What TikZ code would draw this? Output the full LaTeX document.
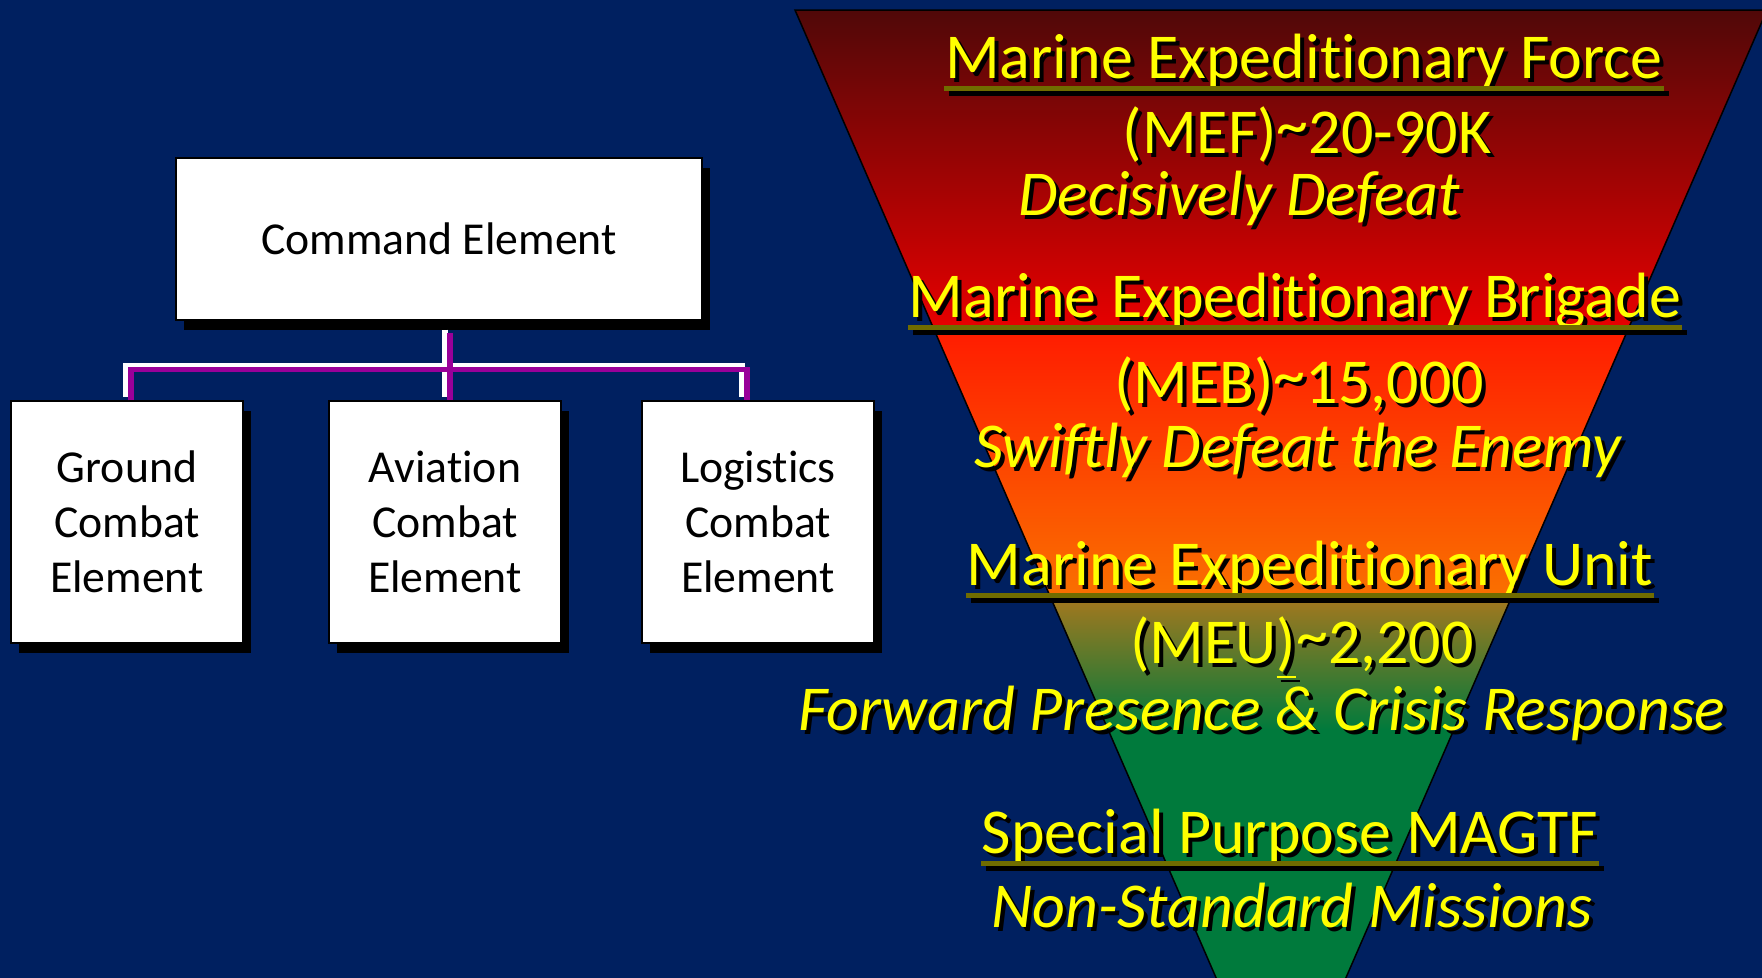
\documentclass[tikz,border=0pt]{standalone}
\usepackage{fontspec}
\setmainfont{Carlito}[Ligatures=NoCommon]
\usetikzlibrary{positioning,calc,shadows}
\definecolor{navy}{RGB}{0,32,96}
\definecolor{wirecol}{RGB}{153,0,153}
\definecolor{gold}{RGB}{255,255,0}
\definecolor{ulcol}{RGB}{112,108,0}
\definecolor{maroon}{RGB}{80,8,8}
\definecolor{redtop}{RGB}{232,0,0}
\definecolor{redlow}{RGB}{255,28,0}
\definecolor{orangelow}{RGB}{250,112,0}
\definecolor{ochre}{RGB}{165,120,30}
\definecolor{leaf}{RGB}{0,122,60}
\newcommand{\shadowed}[1]{\makebox[0pt][l]{\kern0.04cm\raisebox{-0.04cm}{\color{black}#1}}\textcolor{gold}{#1}}
\newcommand{\approxsign}{\raisebox{0.07cm}{\textasciitilde}}
\tikzstyle{element}=[draw=black,fill=white,line width=0.02cm,align=center,inner sep=0pt,font=\fontsize{13}{15.6}\selectfont,drop shadow={shadow xshift=0.08cm,shadow yshift=-0.1cm,fill=black,opacity=1}]
\tikzstyle{link}=[draw=wirecol,line width=0.055cm]
\tikzstyle{glint}=[draw=white,line width=0.055cm,transform canvas={xshift=-0.05cm,yshift=0.035cm}]
\tikzstyle{heading}=[anchor=base,inner sep=0pt,font=\fontsize{18.2}{21}\selectfont]
\tikzstyle{motto}=[anchor=base,inner sep=0pt,font=\fontsize{18.2}{21}\selectfont\itshape]
\tikzstyle{uline}=[draw=ulcol,line width=0.05cm]
\tikzstyle{ushadow}=[draw=black,line width=0.05cm,transform canvas={xshift=0.05cm,yshift=-0.05cm}]

\begin{document}
\begin{tikzpicture}[x=0.01cm,y=-0.01cm]

\useasboundingbox (0,0) rectangle (1762,978);
\fill[navy] (0,0) rectangle (1762,978);
% inverted triangle
\begin{scope}
\clip (795,10) -- (1767,10) -- (1281,1127) -- cycle;
\fill[top color=maroon,bottom color=redtop] (780,10) rectangle (1780,330);
\fill[top color=redlow,bottom color=orangelow] (780,330) rectangle (1780,596);
\fill[top color=ochre,bottom color=leaf] (780,596) rectangle (1780,730);
\fill[leaf] (780,730) rectangle (1780,1130);
\end{scope}
\draw[black,line width=0.015cm] (795,10) -- (1767,10) -- (1281,1127) -- cycle;

\node[element,minimum width=5.26cm,minimum height=1.62cm] (cmd) at (439,239) {Command Element};
\node[element,minimum width=2.32cm,minimum height=2.41cm] (gce) at (127,522) {Ground\\Combat\\Element};
\node[element,minimum width=2.32cm,minimum height=2.41cm] (ace) at (445,522) {Aviation\\Combat\\Element};
\node[element,minimum width=2.32cm,minimum height=2.41cm] (lce) at (758,522) {Logistics\\Combat\\Element};
\coordinate (bus) at ($(ace.north)+(5,-31)$);
\draw[glint] ($(cmd.south)+(11,12)$) -- ($(ace.north)+(5,0)$);
\draw[glint] ($(gce.north)+(4,0)$) |- (bus) -| ($(lce.north)+(-11,0)$);
\draw[link] ($(cmd.south)+(11,12)$) -- ($(ace.north)+(5,0)$);
\draw[link] ($(gce.north)+(4,0)$) |- (bus) -| ($(lce.north)+(-11,0)$);

\node[heading] (mef) at (1304,78) {\shadowed{Marine Expeditionary Force}};
\node[heading] (mefsize) at (1307,153) {\shadowed{(MEF)\approxsign 20-90K}};
\node[motto] (mefrole) at (1239,215) {\shadowed{Decisively Defeat}};
\node[heading] (meb) at (1295,317) {\shadowed{Marine Expeditionary Brigade}};
\node[heading] (mebsize) at (1299,403) {\shadowed{(MEB)\approxsign 15,000}};
\node[motto] (mebrole) at (1298,467) {\shadowed{Swiftly Defeat the Enemy}};
\node[heading] (meu) at (1310,585) {\shadowed{Marine Expeditionary Unit}};
\node[heading] (meusize) at (1302,663) {\shadowed{(MEU\underline{)}\approxsign 2,200}};
\node[motto] (meurole) at (1262,730) {\shadowed{Forward Presence \& Crisis Response}};
\node[heading] (spm) at (1290,853) {\shadowed{Special Purpose MAGTF}};
\node[motto] (spmrole) at (1292,927) {\shadowed{Non-Standard Missions}};

\draw[ushadow] ($(mef.base west)+(0,10)$) -- ($(mef.base east)+(0,10)$);
\draw[uline] ($(mef.base west)+(0,10)$) -- ($(mef.base east)+(0,10)$);
\draw[ushadow] ($(meb.base west)+(0,10)$) -- ($(meb.base east)+(0,10)$);
\draw[uline] ($(meb.base west)+(0,10)$) -- ($(meb.base east)+(0,10)$);
\draw[ushadow] ($(meu.base west)+(0,10)$) -- ($(meu.base east)+(0,10)$);
\draw[uline] ($(meu.base west)+(0,10)$) -- ($(meu.base east)+(0,10)$);
\draw[ushadow] ($(spm.base west)+(0,10)$) -- ($(spm.base east)+(0,10)$);
\draw[uline] ($(spm.base west)+(0,10)$) -- ($(spm.base east)+(0,10)$);
\end{tikzpicture}
\end{document}
